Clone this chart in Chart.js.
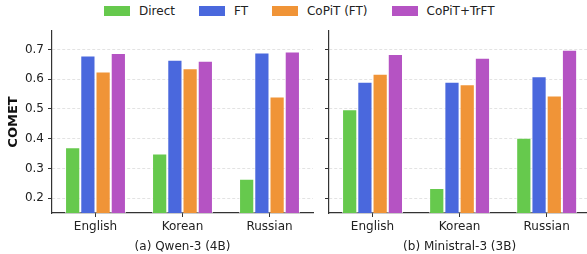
<!DOCTYPE html>
<html>
<head>
<meta charset="utf-8">
<script src="https://cdn.jsdelivr.net/npm/chart.js"></script>
<style>
  html, body { margin: 0; padding: 0; overflow: hidden; background: #fff; width: 587px; height: 254px; }
  #legend { position: absolute; left: 104px; top: 0; height: 22px; display: flex; align-items: center;
            font-family: 'DejaVu Sans'; font-size: 12px; color: #222; white-space: nowrap; }
  .item { display: flex; align-items: center; margin-right: 24px; }
  .box { width: 26px; height: 10px; margin-right: 9px; }
  #left { position: absolute; left: 0; top: 0; }
  #right { position: absolute; left: 320px; top: 0; }
</style>
</head>
<body>
<div id="legend"></div>
<canvas id="left" width="320" height="254"></canvas>
<canvas id="right" width="280" height="254"></canvas>
<script>
// data
const languages = ['English', 'Korean', 'Russian'];
const seriesNames = ['Direct', 'FT', 'CoPiT (FT)', 'CoPiT+TrFT'];
const seriesColors = ['#66c94d', '#4a68dd', '#f09437', '#b553c3'];

const qwenDirect = [0.371, 0.350, 0.265];
const qwenFT = [0.680, 0.665, 0.690];
const qwenCopit = [0.626, 0.637, 0.542];
const qwenTrft = [0.688, 0.662, 0.693];

const ministralDirect = [0.499, 0.234, 0.403];
const ministralFT = [0.591, 0.591, 0.610];
const ministralCopit = [0.618, 0.583, 0.545];
const ministralTrft = [0.685, 0.672, 0.699];

const yTicks = [0.2, 0.3, 0.4, 0.5, 0.6, 0.7];
const panelTitles = ['(a) Qwen-3 (4B)', '(b) Ministral-3 (3B)'];

// legend
const legendEl = document.getElementById('legend');
seriesNames.forEach((name, i) => {
    const item = document.createElement('div');
    item.className = 'item';
    const box = document.createElement('span');
    box.className = 'box';
    box.style.background = seriesColors[i];
    const txt = document.createElement('span');
    txt.textContent = name;
    item.appendChild(box);
    item.appendChild(txt);
    legendEl.appendChild(item);
});

const font = { family: 'DejaVu Sans', size: 12 };
const dark = '#333';

function makePanel(canvasId, seriesList, title, showY, axisWidth, padRight) {
    const data = {
        labels: languages,
        datasets: seriesList.map((vals, i) => ({
            label: seriesNames[i],
            data: vals,
            backgroundColor: seriesColors[i],
            borderColor: 'rgba(255,255,255,0.7)',
            borderWidth: 1,
            categoryPercentage: 0.7,
            barPercentage: 1.0
        }))
    };

    const config = {
        type: 'bar',
        data: data,
        options: {
            responsive: false,
            animation: false,
            layout: { padding: { top: 31, right: padRight, left: 0, bottom: 0 } },
            plugins: { legend: { display: false }, tooltip: { enabled: false } },
            scales: {
                x: {
                    offset: true,
                    grid: { display: true, drawOnChartArea: false, offset: false, tickLength: 4, tickColor: dark, tickWidth: 1 },
                    border: { color: dark, width: 1.2 },
                    ticks: { padding: 3, font: font, color: '#222' },
                    title: { display: true, text: title, font: font, color: '#222', padding: { top: 0, bottom: 0 } },
                    afterFit: s => { s.height = 41; }
                },
                y: {
                    min: 0.15,
                    max: 0.762,
                    afterBuildTicks: s => { s.ticks = yTicks.map(v => ({ value: v })); },
                    afterFit: s => { s.width = axisWidth; },
                    ticks: { display: showY, padding: 4, font: font, color: '#222', callback: v => v.toFixed(1) },
                    grid: { color: '#dcdcdc', lineWidth: 0.8, tickColor: dark, tickLength: 4, tickWidth: 1, tickBorderDash: [] },
                    border: { color: dark, width: 1.2, dash: [3, 2] },
                    title: { display: showY, text: 'COMET', color: '#111',
                             font: { family: 'DejaVu Sans', size: 13, weight: 'bold' }, padding: { top: 6, bottom: 0 } }
                }
            }
        }
    };
    return new Chart(document.getElementById(canvasId), config);
}

makePanel('left', [qwenDirect, qwenFT, qwenCopit, qwenTrft], panelTitles[0], true, 52, 7);
makePanel('right', [ministralDirect, ministralFT, ministralCopit, ministralTrft], panelTitles[1], false, 9, 9.8);
</script>
</body>
</html>
